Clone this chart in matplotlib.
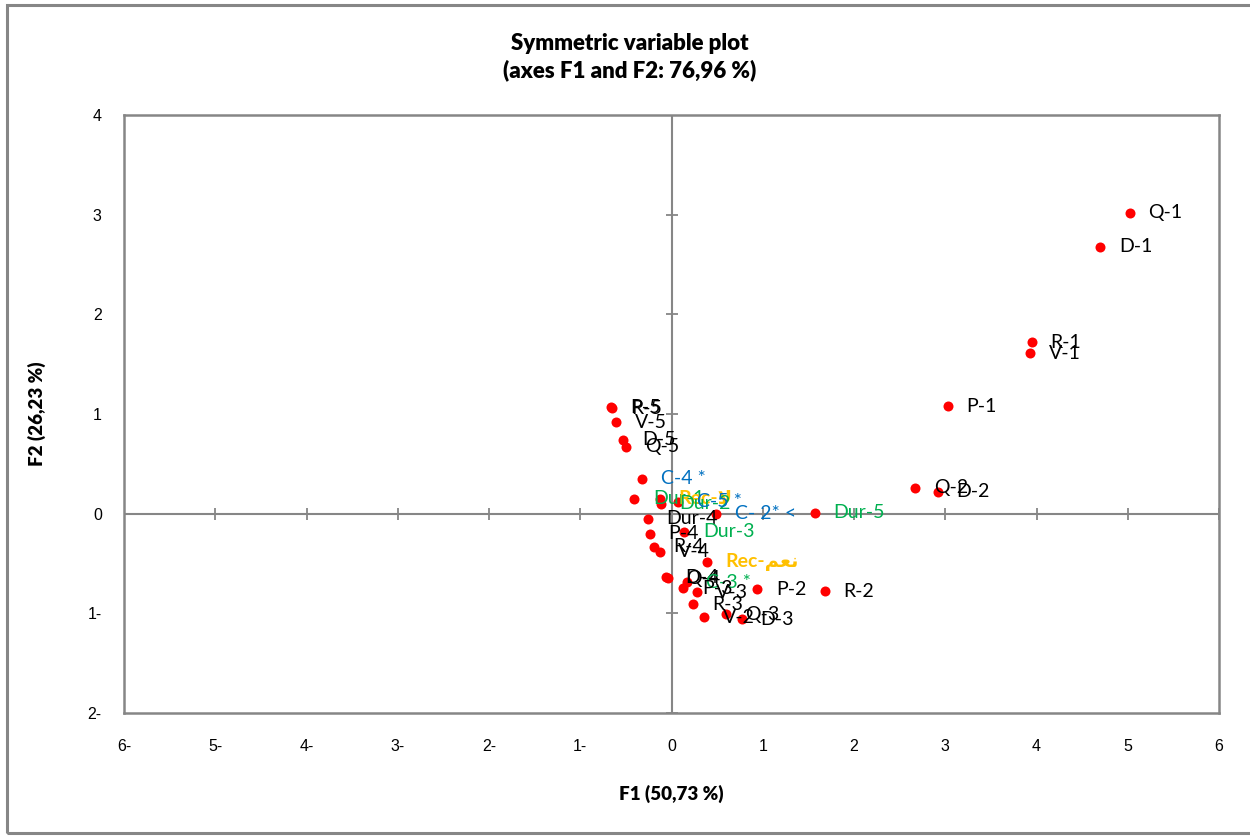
import matplotlib
matplotlib.use("Agg")
import matplotlib.pyplot as plt
from matplotlib.patches import Rectangle

# Arabic words given in presentation forms (visual order), since matplotlib does no shaping
REC_NO = "Rec-\uFEFB"
REC_YES = "Rec-\uFEE2\uFECC\uFEE7"

labels = ["Q-1", "D-1", "R-1", "V-1", "P-1", "Q-2", "D-2", "R-2", "P-2",
          "Dur-5", "C- 2* <", "P-5", "R-5", "V-5", "D-5", "Q-5", "C-4 *",
          "Dur-1", REC_NO, "Dur-2", "C-5 *", "Dur-4", "Dur-3", "P-4", "R-4",
          "V-4", REC_YES, "D-4", "Q-4", "C-3 *", "P-3", "V-3", "R-3", "V-2",
          "Q-3", "D-3"]
f1 = [5.02, 4.70, 3.95, 3.93, 3.03, 2.67, 2.92, 1.68, 0.94,
      1.57, 0.49, -0.66, -0.65, -0.61, -0.53, -0.50, -0.32,
      -0.41, -0.13, -0.12, 0.07, -0.26, 0.14, -0.24, -0.19,
      -0.13, 0.39, -0.06, -0.04, 0.17, 0.13, 0.28, 0.24, 0.36,
      0.60, 0.77]
f2 = [3.02, 2.68, 1.72, 1.61, 1.08, 0.26, 0.22, -0.78, -0.76,
      0.01, 0.00, 1.07, 1.06, 0.92, 0.74, 0.67, 0.35,
      0.15, 0.15, 0.10, 0.12, -0.05, -0.18, -0.20, -0.33,
      -0.38, -0.48, -0.64, -0.65, -0.69, -0.75, -0.79, -0.91, -1.04,
      -1.01, -1.06]
groups = ["m", "m", "m", "m", "m", "m", "m", "m", "m",
          "dur", "c", "m", "m", "m", "m", "m", "c",
          "dur", "rec", "dur", "c", "m", "dur", "m", "m",
          "m", "rec", "m", "m", "dur", "m", "m", "m", "m",
          "m", "m"]

group_colours = {"m": "black", "dur": "#00B050", "c": "#0070C0", "rec": "#FFC000"}
group_weight = {"m": "normal", "dur": "normal", "c": "normal", "rec": "bold"}

xticks = [-6, -5, -4, -3, -2, -1, 0, 1, 2, 3, 4, 5, 6]
yticks = [-2, -1, 0, 1, 2, 3, 4]


def rtl_num(v):
    # negative numbers are shown with a trailing minus sign
    return str(abs(v)) + "-" if v < 0 else str(v)


label_font = ["Lato", "DejaVu Sans"]
grey = "#868686"

fig = plt.figure(figsize=(12.5, 8.36), dpi=100)
fig.patches.append(Rectangle((0.0056, 0.003), 1.2, 0.991, transform=fig.transFigure,
                             fill=False, edgecolor=grey, linewidth=2.2, zorder=0))
ax = fig.add_axes([0.0992, 0.1471, 0.876, 0.7153])

ax.set_xlim(-6, 6)
ax.set_ylim(-2, 4)

ax.axhline(0, color=grey, linewidth=1.5, zorder=1)
ax.axvline(0, color=grey, linewidth=1.5, zorder=1)
# tick crosses on the zero lines
ax.plot(xticks, [0] * len(xticks), linestyle="none", marker="|", markersize=9,
        color=grey, markeredgewidth=1.3, zorder=1)
ax.plot([0] * len(yticks), yticks, linestyle="none", marker="_", markersize=9,
        color=grey, markeredgewidth=1.3, zorder=1)

ax.scatter(f1, f2, s=52, color="red", zorder=3, linewidths=0)

for lab, x, y, g in zip(labels, f1, f2, groups):
    ax.annotate(lab, (x, y), xytext=(13.5, 0), textcoords="offset points",
                va="center", ha="left", fontsize=14, family=label_font,
                color=group_colours[g], fontweight=group_weight[g], zorder=4)

for s in ax.spines.values():
    s.set_color(grey)
    s.set_linewidth(1.8)

ax.set_xticks(xticks)
ax.set_yticks(yticks)
ax.set_xticklabels([rtl_num(v) for v in xticks], family="Liberation Sans", fontsize=11.5)
ax.set_yticklabels([rtl_num(v) for v in yticks], family="Liberation Sans", fontsize=11.5)
ax.tick_params(axis="x", length=0, pad=19)
ax.tick_params(axis="y", length=0, pad=16)

ax.set_xlabel("F1 (50,73 %)", family="Lato", fontweight="heavy", fontsize=13.5, labelpad=22)
ax.set_ylabel("F2 (26,23 %)", family="Lato", fontweight="heavy", fontsize=13.5, labelpad=30)

fig.text(0.504, 0.932, "Symmetric variable plot\n(axes F1 and F2: 76,96 %)",
         ha="center", va="center", family="Lato", fontweight="heavy", fontsize=16,
         linespacing=1.3)

fig.savefig("out.png", dpi=100)
